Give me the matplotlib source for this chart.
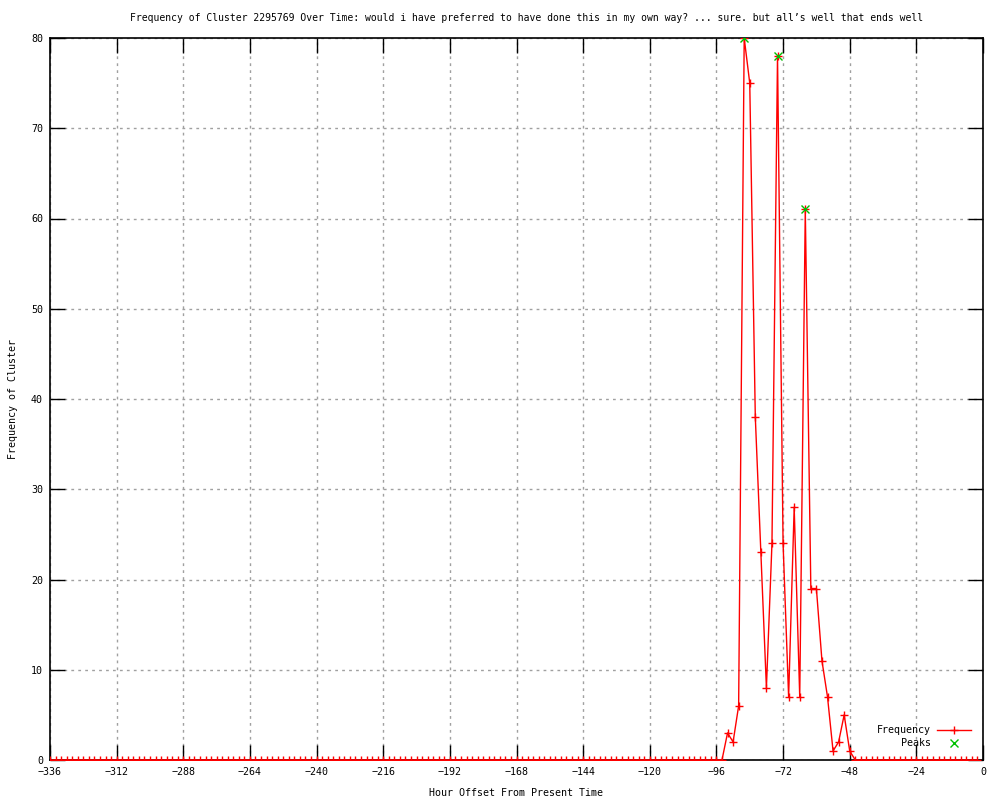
import numpy as np
import matplotlib
matplotlib.use("Agg")
import matplotlib.pyplot as plt

# horas (cada 2 h) y frecuencias
horas = list(range(-336, 0, 2))
activos = {
    -92: 3, -90: 2, -88: 6, -86: 80, -84: 75, -82: 38, -80: 23, -78: 8,
    -76: 24, -74: 78, -72: 24, -70: 7, -68: 28, -66: 7, -64: 61, -62: 19,
    -60: 19, -58: 11, -56: 7, -54: 1, -52: 2, -50: 5, -48: 1,
}
frecuencia = [activos.get(h, 0) for h in horas]

pico_horas = [-86, -74, -64]
pico_valores = [80, 78, 61]

plt.rcParams['font.family'] = ['DejaVu Sans Mono']
plt.rcParams['font.size'] = 7

fig = plt.figure(figsize=(10, 8), dpi=100)
ax = fig.add_axes([0.05, 0.05, 0.933, 0.9025])

ax.plot(horas, frecuencia, color='red', lw=1.0, marker='+', ms=6, mew=1.0,
        label='Frequency', zorder=3)
ax.plot(pico_horas, pico_valores, ls='none', marker='x', ms=5.5, mew=1.0,
        color='#00c000', label='Peaks', zorder=4)

ax.set_xlim(-336, 0)
ax.set_ylim(0, 80)
ax.set_xticks(range(-336, 1, 24))
ax.set_yticks(range(0, 81, 10))
ax.tick_params(direction='in', length=11, width=1, top=True, right=True,
               labelsize=7.2, pad=5)
ax.grid(True, color='#a0a0a0', ls=(0, (2, 3)), lw=1)
for s in ax.spines.values():
    s.set_linewidth(1.2)

fig.text(0.527, 0.977, 'Frequency of Cluster 2295769 Over Time: would i have preferred to have done this in my own way? ... sure. but all\u2019s well that ends well',
         ha='center', va='center', fontsize=7)
ax.set_xlabel('Hour Offset From Present Time', fontsize=7.2, va='center')
ax.xaxis.set_label_coords(0.4995, -0.0457)
ax.set_ylabel('Frequency of Cluster', fontsize=7.2, va='center')
ax.yaxis.set_label_coords(-0.0397, 0.5)

ax.legend(loc='lower right', frameon=False, markerfirst=False, fontsize=7.2,
          handlelength=3.4, handletextpad=0.6, labelspacing=0.3,
          borderaxespad=0.8)

fig.savefig('out.png', dpi=100)
